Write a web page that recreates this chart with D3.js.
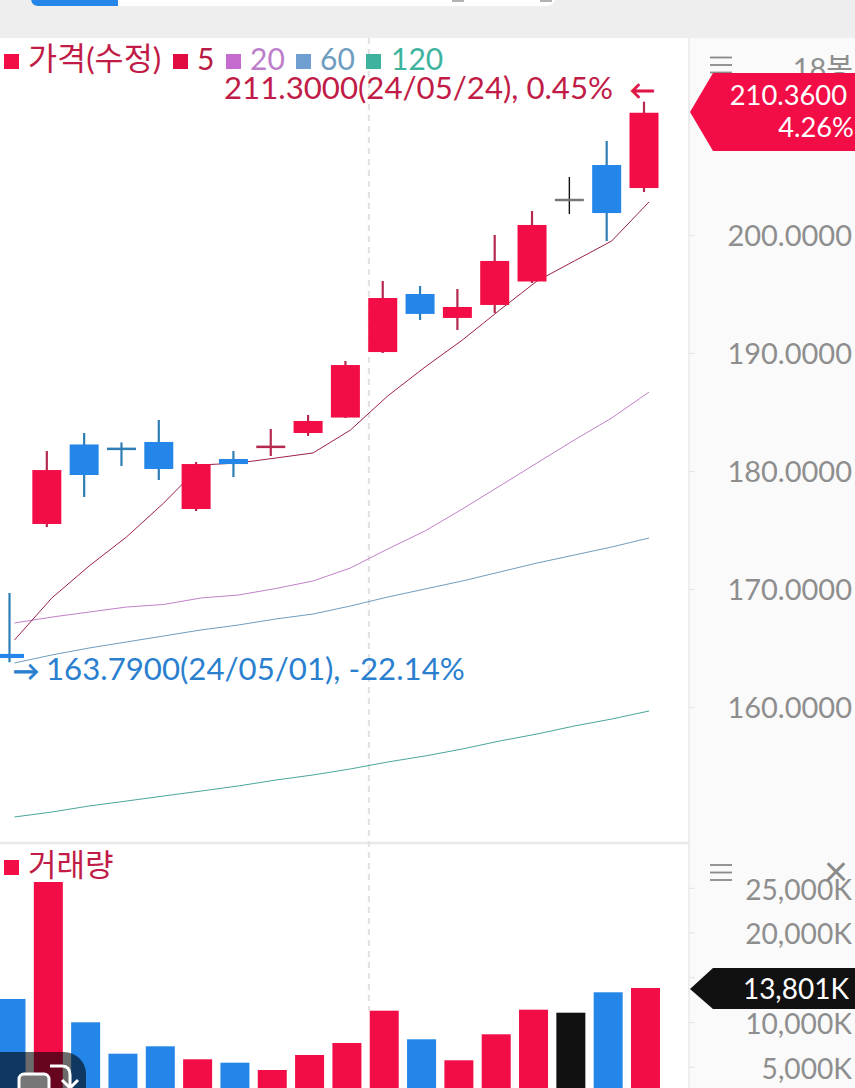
<!DOCTYPE html>
<html>
<head>
<meta charset="utf-8">
<script src="https://cdn.jsdelivr.net/npm/d3@7"></script>
<style>
  html, body { margin: 0; padding: 0; background: #fff; }
  svg { display: block; }
  text { font-family: Lato, "Noto Sans CJK KR", sans-serif; }
</style>
</head>
<body>
<div id="myDiv"></div>
<script>
// Candle values, left to right
const opens  = [164.50, 175.51, 182.25, 181.88, 182.46, 176.78, 181.02, 182.01, 183.22, 184.53, 190.08, 195.00, 192.97, 194.07, 196.06, 202.97, 205.93, 203.98];
const closes = [164.15, 180.08, 179.66, 181.84, 180.17, 180.59, 180.59, 182.05, 184.24, 188.98, 194.66, 193.31, 193.90, 197.80, 200.85, 202.97, 201.86, 210.36];
const highs  = [169.66, 181.69, 183.22, 182.42, 184.32, 180.76, 181.69, 183.56, 184.75, 189.32, 196.10, 195.68, 195.42, 200.00, 202.03, 204.92, 207.97, 211.30];
const lows   = [163.79, 175.25, 177.80, 180.42, 179.24, 176.61, 179.49, 181.27, 182.97, 184.49, 190.00, 192.80, 191.95, 193.39, 195.93, 201.78, 199.49, 203.64];

// Moving averages
const ma5   = [165.68, 169.24, 171.95, 174.41, 177.29, 180.51, 180.68, 181.10, 181.53, 183.47, 186.36, 188.81, 191.10, 193.64, 196.10, 197.80, 199.49, 202.80];
const ma20  = [167.12, 167.62, 168.05, 168.47, 168.69, 169.24, 169.49, 170.04, 170.68, 171.78, 173.39, 174.92, 176.78, 178.73, 180.68, 182.63, 184.49, 186.69];
const ma60  = [163.73, 164.41, 165.00, 165.51, 166.02, 166.53, 166.95, 167.46, 167.88, 168.56, 169.32, 170.00, 170.68, 171.44, 172.20, 172.88, 173.56, 174.32];
const ma120 = [150.68, 151.10, 151.61, 152.03, 152.46, 152.88, 153.31, 153.81, 154.24, 154.75, 155.34, 155.85, 156.44, 157.12, 157.71, 158.39, 158.98, 159.66];

// Volume in thousands
const volumes = [12570, 25642, 9966, 6458, 7285, 5832, 5453, 4637, 6313, 7654, 11263, 8067, 5721, 8626, 11374, 11039, 13318, 13801];

const priceTicks = [160, 170, 180, 190, 200];
const volumeTicks = [5000, 10000, 15000, 20000, 25000];

const RED = "#f30d47", BLUE = "#2386e8", BLACK = "#111111";
const W = 855, H = 1088, PANEL_X = 689;

const svg = d3.select("#myDiv").append("svg").attr("width", W).attr("height", H);

// Scales
const x = d3.scaleLinear().domain([0, 17]).range([9.5, 644]);
const y = d3.scaleLinear().domain([160, 200]).range([707, 235]);
const yVol = d3.scaleLinear().domain([0, 25000]).range([1111.5, 887.75]);

const candleColor = i => closes[i] > opens[i] ? RED : closes[i] < opens[i] ? BLUE : BLACK;
const wickColor = i => closes[i] > opens[i] ? "#b5294f" : closes[i] < opens[i] ? "#2f7db5" : BLACK;

// Backgrounds
svg.append("rect").attr("width", W).attr("height", 38).attr("fill", "#eeeeee");
svg.append("rect").attr("x", PANEL_X).attr("y", 38).attr("width", W - PANEL_X).attr("height", H - 38).attr("fill", "#fafafa");
svg.append("line").attr("x1", PANEL_X).attr("x2", PANEL_X).attr("y1", 38).attr("y2", H).attr("stroke", "#eeeeee").attr("stroke-width", 2);
svg.append("line").attr("x1", 0).attr("x2", PANEL_X).attr("y1", 843).attr("y2", 843).attr("stroke", "#e8e8e8").attr("stroke-width", 2.5);

// Tab bar cut off at the top
svg.append("rect").attr("x", 31).attr("y", -20).attr("width", 524).attr("height", 26).attr("rx", 8).attr("fill", "#fff");
svg.append("path").attr("d", "M31,-2 V-2 Q31,6 39,6 H118 V-2 Z").attr("fill", BLUE);
svg.selectAll("line.tabmark").data([458, 546]).enter().append("line").attr("class", "tabmark")
  .attr("x1", d => d - 6).attr("x2", d => d + 6).attr("y1", 1).attr("y2", 1)
  .attr("stroke", "#999").attr("stroke-width", 1.5);

// Dashed date separator
svg.append("line").attr("x1", x(9.63)).attr("x2", x(9.63)).attr("y1", 38).attr("y2", 1011)
  .attr("stroke", "#e2e2e2").attr("stroke-width", 2.2).attr("stroke-dasharray", "6 5");

// Moving average lines
const maLine = d3.line().x((d, i) => x(i) + 5).y(d => y(d));
[[ma120, "#4aa69a"], [ma60, "#6f9dbf"], [ma20, "#c27fc9"], [ma5, "#9c2145"]].forEach(([values, color]) => {
  svg.append("path").datum(values).attr("d", maLine).attr("fill", "none").attr("stroke", color).attr("stroke-width", 1);
});

// Candles
const candles = svg.append("g").selectAll("g").data(d3.range(opens.length)).enter().append("g");
candles.append("line")
  .attr("x1", i => x(i)).attr("x2", i => x(i))
  .attr("y1", i => y(highs[i])).attr("y2", i => y(lows[i]))
  .attr("stroke", wickColor).attr("stroke-width", i => candleColor(i) === BLACK ? 1.4 : 2.2);
candles.append("rect")
  .attr("x", i => x(i) - 14.5).attr("width", 29)
  .attr("y", i => Math.min(y(opens[i]), y(closes[i])) - (Math.abs(y(opens[i]) - y(closes[i])) < 2.5 ? 1.2 : 0))
  .attr("height", i => Math.max(Math.abs(y(opens[i]) - y(closes[i])), 2.5))
  .attr("fill", i => candleColor(i) === BLACK ? "#777" : Math.abs(y(opens[i]) - y(closes[i])) < 2.5 ? wickColor(i) : candleColor(i));

// Volume bars
svg.append("g").selectAll("rect").data(volumes).enter().append("rect")
  .attr("x", (d, i) => x(i) + 1.5 - 14.5).attr("width", 29)
  .attr("y", d => yVol(d)).attr("height", d => yVol(0) - yVol(d))
  .attr("fill", (d, i) => candleColor(i));

// Price axis
const priceAxis = svg.append("g").attr("transform", `translate(${PANEL_X},0)`)
  .call(d3.axisRight(y).tickValues(priceTicks).tickFormat(d3.format(".4f")).tickSize(6));
// Volume axis
const volumeAxis = svg.append("g").attr("transform", `translate(${PANEL_X},0)`)
  .call(d3.axisRight(yVol).tickValues(volumeTicks).tickFormat(d => d3.format(",")(d) + "K").tickSize(6));
[priceAxis, volumeAxis].forEach(a => {
  a.select(".domain").remove();
  a.selectAll("line").attr("stroke", "#e4e4e4");
  a.selectAll("text").attr("x", 163).attr("text-anchor", "end")
    .attr("font-size", 29).attr("fill", "#8e8e8e").style("font-family", "Lato");
});
priceAxis.selectAll("text").attr("dy", "0.36em");
volumeAxis.selectAll("text").attr("font-size", 28.2).attr("dy", "0.4em");

// Hamburger icons and the text behind the price flag
[[710, 57.5], [710, 865]].forEach(([ix, iy]) => {
  d3.range(3).forEach(k => {
    svg.append("line").attr("x1", ix).attr("x2", ix + 22).attr("y1", iy + k * 7.5).attr("y2", iy + k * 7.5)
      .attr("stroke", "#8a8a8a").attr("stroke-width", 1.8);
  });
});
svg.append("text").attr("x", 853).attr("y", 79).attr("text-anchor", "end").attr("font-size", 29).attr("fill", "#8e8e8e").text("18봉");
svg.append("text").attr("x", 836).attr("y", 886).attr("text-anchor", "middle").attr("font-size", 42).attr("fill", "#8a8a8a").text("×");

// Last value flags
svg.append("polygon").attr("points", "690,112 713,73 855,73 855,151 713,151").attr("fill", RED);
svg.append("text").attr("x", 847).attr("y", 105).attr("text-anchor", "end").attr("font-size", 27.3).attr("fill", "#fff").text(d3.format(".4f")(closes[17]));
svg.append("text").attr("x", 854).attr("y", 137).attr("text-anchor", "end").attr("font-size", 27.3).attr("fill", "#fff").text("4.26%");
svg.append("polygon").attr("points", "690,989 713,968 855,968 855,1009 713,1009").attr("fill", BLACK);
svg.append("text").attr("x", 849).attr("y", 999).attr("text-anchor", "end").attr("font-size", 28).attr("fill", "#fff").text(d3.format(",")(volumes[17]) + "K");

// Price legend
const legendItems = [
  { sq: 4, sqColor: RED, tx: 28, text: "가격(수정)", color: "#c01c47", size: 31.6 },
  { sq: 173, sqColor: "#e00c42", tx: 197, text: "5", color: "#b81b45", size: 30 },
  { sq: 226, sqColor: "#c56bd0", tx: 250, text: "20", color: "#bd7ecb", size: 30 },
  { sq: 296, sqColor: "#6f9fd0", tx: 320, text: "60", color: "#6f9dbf", size: 30 },
  { sq: 366, sqColor: "#3db39e", tx: 391, text: "120", color: "#3db39e", size: 30 }
];
legendItems.forEach(d => {
  svg.append("rect").attr("x", d.sq).attr("y", 54).attr("width", 15).attr("height", 15).attr("fill", d.sqColor);
  svg.append("text").attr("x", d.tx).attr("y", 70).attr("font-size", d.size).attr("fill", d.color).text(d.text);
});

// Volume legend
svg.append("rect").attr("x", 4).attr("y", 860).attr("width", 15).attr("height", 15).attr("fill", RED);
svg.append("text").attr("x", 28).attr("y", 876).attr("font-size", 31).attr("fill", "#c01c47").text("거래량");

// High and low notes
svg.append("text").attr("x", 224).attr("y", 99).attr("font-size", 31.2).attr("fill", "#c01c47").text("211.3000(24/05/24), 0.45%");
svg.append("text").attr("x", 630).attr("y", 99).attr("font-size", 25).attr("fill", "#e01548").attr("stroke", "#e01548").attr("stroke-width", 1).text("←");
svg.append("text").attr("x", 13).attr("y", 680).attr("font-size", 26).attr("fill", "#2a7fcf").attr("stroke", "#2a7fcf").attr("stroke-width", 1).text("→");
svg.append("text").attr("x", 46).attr("y", 680).attr("font-size", 31.2).attr("fill", "#2a7fcf").text("163.7900(24/05/01), -22.14%");

// Floating button in the corner
svg.append("rect").attr("x", -20).attr("y", 1052).attr("width", 106).attr("height", 70).attr("rx", 22).attr("fill", "#000").attr("fill-opacity", 0.58);
svg.append("rect").attr("x", 19).attr("y", 1074).attr("width", 30).attr("height", 30).attr("rx", 5).attr("fill", "#777").attr("stroke", "#fff").attr("stroke-width", 3);
svg.append("path").attr("d", "M50,1066 H62 Q70,1066 70,1075 V1088 M62,1080 L70,1088 L78,1080").attr("fill", "none").attr("stroke", "#fff").attr("stroke-width", 3);
</script>
</body>
</html>
